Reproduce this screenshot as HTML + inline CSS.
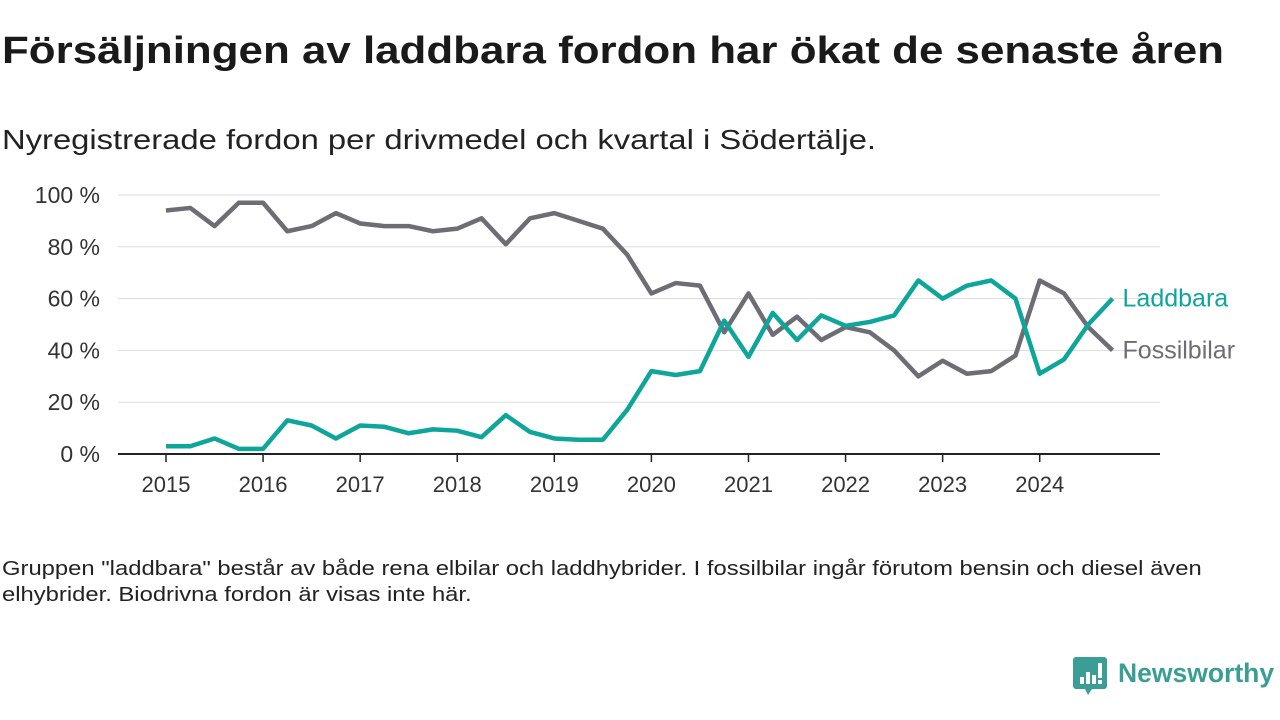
<!DOCTYPE html>
<html><head><meta charset="utf-8"><style>
body{margin:0;width:1280px;height:720px;background:#fff;font-family:"Liberation Sans",sans-serif;overflow:hidden;position:relative;color:#111}
.t{position:absolute;white-space:nowrap;transform-origin:0 0}
</style></head><body>
<div class="t" style="left:2px;top:30px;font-size:38px;font-weight:bold;color:#1a1a1a;transform:scaleX(1.155)">Försäljningen av laddbara fordon har ökat de senaste åren</div>
<div class="t" style="left:2px;top:124px;font-size:28px;color:#222;transform:scaleX(1.17)">Nyregistrerade fordon per drivmedel och kvartal i Södertälje.</div>
<svg id="c" width="1280" height="520" style="position:absolute;left:0;top:0"></svg>
<div class="t" style="left:2px;top:556px;font-size:20px;line-height:26px;color:#222;white-space:normal;width:1015px;transform:scaleX(1.19)">Gruppen "laddbara" består av både rena elbilar och laddhybrider. I fossilbilar ingår förutom bensin och diesel även elhybrider. Biodrivna fordon är visas inte här.</div>
<div style="position:absolute;left:1073px;top:657px">
<svg width="36" height="40"><path d="M3 0h28a3 3 0 0 1 3 3v26a3 3 0 0 1-3 3h-12l-4 6l-3-6h-9a3 3 0 0 1-3-3v-26a3 3 0 0 1 3-3z" fill="#3a9e94"/><rect x="7" y="20" width="4" height="7" fill="#fff"/><rect x="13" y="15" width="4" height="12" fill="#fff"/><rect x="19" y="18" width="4" height="9" fill="#fff"/><rect x="25" y="6" width="4" height="15" fill="#fff"/><rect x="25" y="23" width="4" height="4" fill="#fff"/></svg>
<span class="t" style="left:45px;top:1px;font-size:26.5px;font-weight:bold;color:#3a9e94">Newsworthy</span></div>
<script>
const years=["2015","2016","2017","2018","2019","2020","2021","2022","2023","2024"];
const yTicks=[0,20,40,60,80,100];
const fossil=[94,95,88,97,97,86,88,93,89,88,88,86,87,91,81,91,93,90,87,77,62,66,65,47,62,46,53,44,49,47,40,30,36,31,32,38,67,62,49,40];
const laddbara=[3,3,6,2,2,13,11,6,11,10.5,8,9.5,9,6.5,15,8.5,6,5.5,5.5,17,32,30.5,32,51.5,37.5,54.5,44,53.5,49.5,51,53.5,67,60,65,67,60,31,36.5,50,60];
const svg=document.getElementById('c'),NS='http://www.w3.org/2000/svg';
const x=i=>166+i*24.27, y=v=>454-v*2.59;
function mk(t,a,p){const e=document.createElementNS(NS,t);for(const k in a)e.setAttribute(k,a[k]);(p||svg).appendChild(e);return e;}
yTicks.forEach(v=>{
 const g=mk('line',{x1:118,x2:1160,y1:y(v),y2:y(v),stroke:v?'#ddd':'#222','stroke-width':v?1:2});
 
 const t=mk('text',{x:100,y:y(v)+8,'text-anchor':'end','font-size':23,fill:'#333'});t.textContent=v+' %';
 
});
years.forEach((yr,k)=>{
 const xx=x(k*4);
 const l=mk('line',{x1:xx,x2:xx,y1:454,y2:462,stroke:'#222','stroke-width':1.5});
 
 const t=mk('text',{x:xx,y:492,'text-anchor':'middle','font-size':22,fill:'#333'});t.textContent=yr;
 
});
function line(d,col,name,label){
 const p=mk('path',{d:d.map((v,i)=>(i?'L':'M')+x(i)+' '+y(v)).join(''),fill:'none',stroke:col,'stroke-width':4.5,'stroke-linejoin':'round'});
 
 const t=mk('text',{x:x(d.length-1)+10,y:y(d[d.length-1])+8,'font-size':25,fill:col});t.textContent=label;
 
}
line(fossil,'#6e6c74','fossilbilar-line','Fossilbilar');
line(laddbara,'#0ea59a','laddbara-line','Laddbara');
</script>
</body></html>
